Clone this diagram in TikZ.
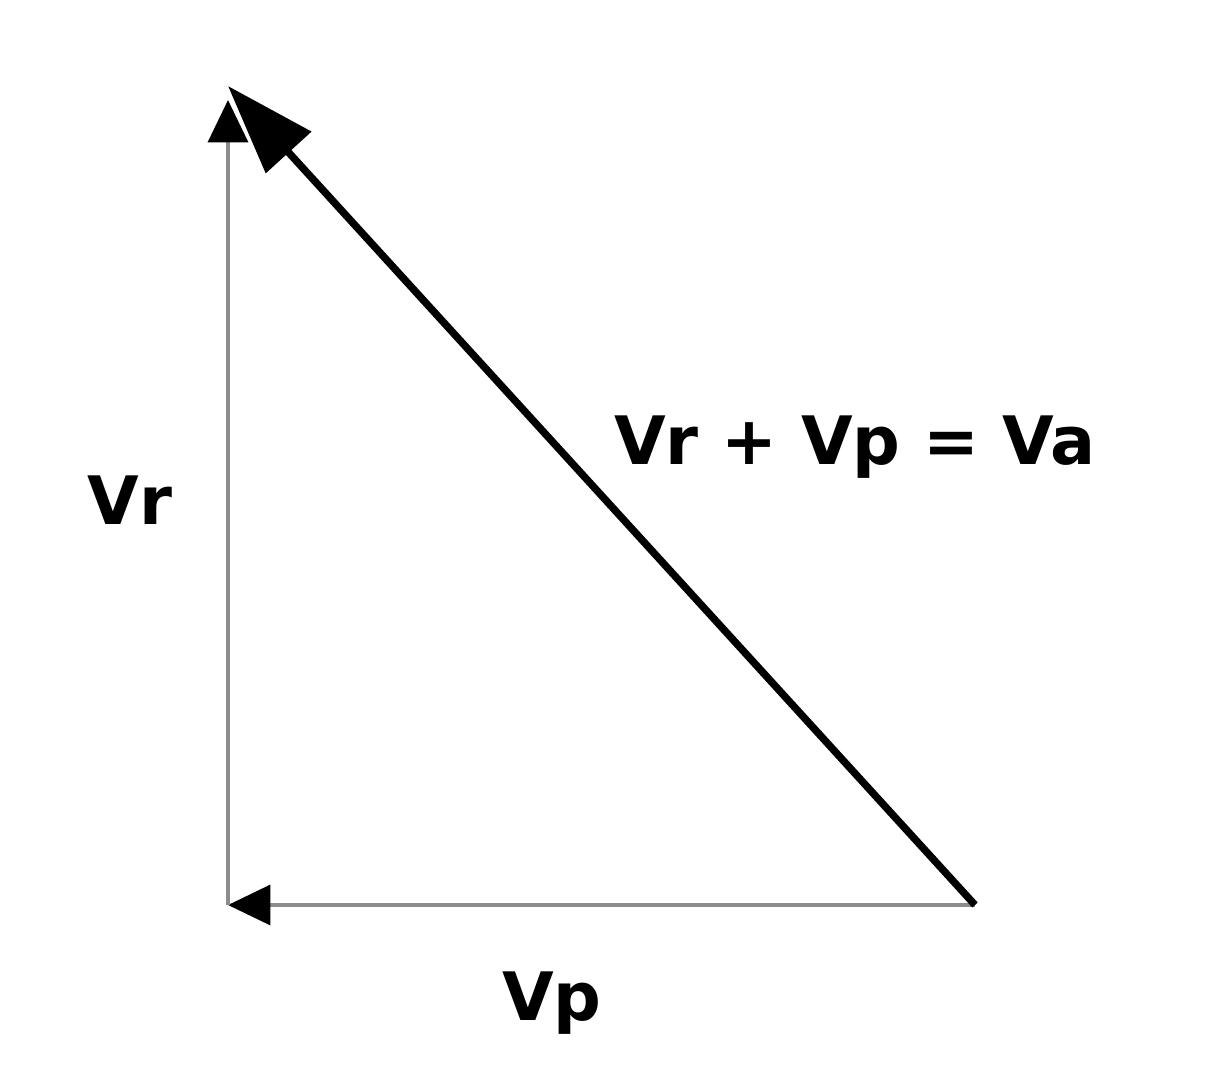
\documentclass[tikz,border=0pt]{standalone}
\usepackage{fontspec}
\newfontfamily\labelfont{DejaVu Sans}
\usetikzlibrary{arrows.meta}

\begin{document}
\begin{tikzpicture}[
    x=0.02cm, y=-0.02cm,
    leg/.style={draw=black!45, line width=2.2pt, -{Triangle[length=0.85cm, width=0.8cm, black]}},
    sum/.style={draw=black, line width=4.2pt, -{Triangle[length=1.8cm, width=1.2cm]}},
    lbl/.style={font=\labelfont\bfseries\fontsize{38}{44}\selectfont, inner sep=0pt}
  ]
    \useasboundingbox (0,0) rectangle (1216,1088);
    \coordinate (top) at (228,86);
    \coordinate (topleg) at (228,100);
    \coordinate (corner) at (228,905);
    \coordinate (right) at (975,905);
    \draw[leg] (right) -- (corner);
    \draw[leg] (corner) -- (topleg);
    \draw[sum] (right) -- (top);
    \node[lbl] (vr) at (130,500) {Vr};
    \node[lbl] (vp) at (552,1003) {Vp};
    \node[lbl] (va) at (855,447) {Vr + Vp = Va};
\end{tikzpicture}
\end{document}
